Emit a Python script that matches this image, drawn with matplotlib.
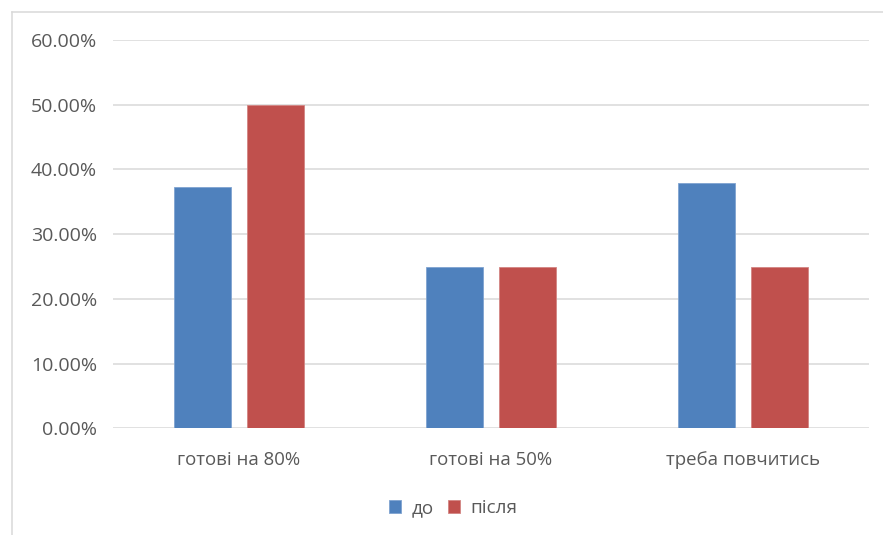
import matplotlib.pyplot as plt
import numpy as np
from matplotlib.lines import Line2D
from matplotlib.ticker import FuncFormatter

categories = ['готові на 80%', 'готові на 50%', 'треба повчитись']
before = [37.3, 25.0, 37.9]
after = [50.0, 25.0, 25.0]
series_names = ['до', 'після']

blue = '#4F81BD'
red = '#C0504D'
grid_gray = '#D9D9D9'
text_gray = '#595959'

plt.rcParams['font.family'] = ['Open Sans', 'DejaVu Sans']

W, H = 883, 535
fig = plt.figure(figsize=(W / 100, H / 100), dpi=100)
ax = fig.add_axes([113 / W, 1 - 428.3 / H, (869 - 113) / W, (428.3 - 40) / H])

x = np.arange(len(categories))
width = 0.226
offset = 0.143
ax.bar(x - offset, before, width, color=blue, edgecolor='#7FA3D0', linewidth=0.6,
       label=series_names[0], zorder=3)
ax.bar(x + offset, after, width, color=red, edgecolor='#D38583', linewidth=0.6,
       label=series_names[1], zorder=3)

ax.set_xlim(-0.5, len(categories) - 0.5)
ax.set_ylim(0, 60)
ax.set_yticks(np.arange(0, 61, 10))
ax.yaxis.set_major_formatter(FuncFormatter(lambda v, _: f'{v:.2f}%'))
ax.set_xticks(x)
ax.set_xticklabels(categories)

ax.grid(axis='y', color=grid_gray, linewidth=1.1, zorder=0)
for s in ax.spines.values():
    s.set_visible(False)
ax.tick_params(axis='y', length=0, pad=11.5, labelsize=14, labelcolor=text_gray)
ax.tick_params(axis='x', length=0, pad=16.5, labelsize=13.4, labelcolor=text_gray)

# outer chart border (left and top edges visible)
fig.add_artist(Line2D([11.5 / W, 11.5 / W], [0, 1 - 11.5 / H], color=grid_gray, lw=1.1))
fig.add_artist(Line2D([11.5 / W, 1], [1 - 11.5 / H, 1 - 11.5 / H], color=grid_gray, lw=1.1))

leg = fig.legend(loc='center', bbox_to_anchor=(453 / W, 1 - 508 / H), ncol=2,
                 frameon=False, fontsize=13.6, handlelength=0.65, handleheight=0.65,
                 handletextpad=0.55, columnspacing=0.75, labelcolor=text_gray)

fig.savefig('out.png', dpi=100, facecolor='white')
